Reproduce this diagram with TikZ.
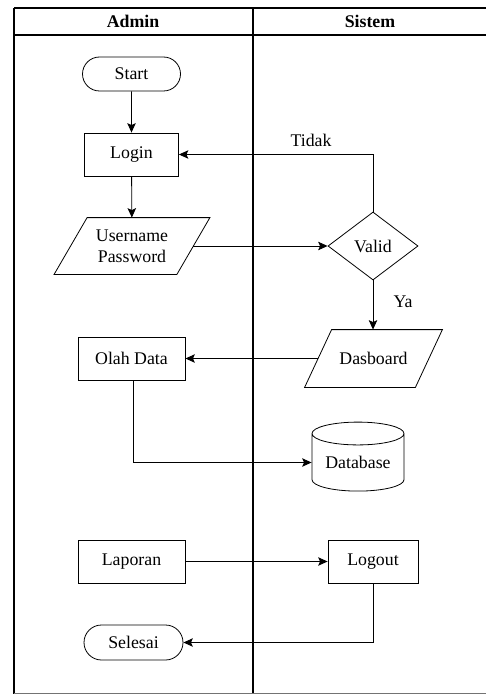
\documentclass[tikz,border=0pt]{standalone}
\usepackage{fontspec}
\setmainfont{Liberation Serif}
\usetikzlibrary{arrows.meta,shapes.geometric,shapes.misc,calc}
\tikzset{
  lane/.style={line width=1.1pt},
  term/.style={draw, rounded rectangle, minimum width=98pt, minimum height=34pt, inner sep=0pt},
  proc/.style={draw, rectangle, minimum width=107pt, minimum height=43pt, inner sep=0pt},
  io/.style={rectangle, minimum height=56pt, inner sep=0pt},
  decision/.style={draw, diamond, minimum width=90pt, minimum height=68pt, inner sep=0pt},
  store/.style={draw, cylinder, shape border rotate=90, shape aspect=0.35, minimum width=92pt, minimum height=69pt, inner sep=0pt},
  flow/.style={-{Stealth[length=9.5pt,width=8.5pt,inset=2pt]}, line width=0.85pt}
}
\begin{document}
\begin{tikzpicture}[x=1pt, y=-1pt, font=\fontsize{17.8}{19}\selectfont, line width=0.8pt]
  \useasboundingbox (0,0) rectangle (486,695);
  \def\xa{131.5}\def\xs{373}
  % swimlanes
  \draw[lane] (14,8) -- (490,8);
  \draw[lane] (14,35) -- (490,35);
  \draw[lane] (14,8) -- (14,693.5);
  \draw[lane] (253,8) -- (253,693.5);
  \draw[lane, black!55] (14,693.5) -- (490,693.5);
  \node[font=\fontsize{17.8}{19}\selectfont\bfseries] (hadmin) at (133,21.5) {Admin};
  \node[font=\fontsize{17.8}{19}\selectfont\bfseries] (hsistem) at (370,21.5) {Sistem};
  % admin lane
  \node[term] (start) at (\xa,74) {Start};
  \node[proc, minimum width=94pt] (login) at (\xa,154.5) {Login};
  \node[io, align=center, minimum width=122pt, font=\fontsize{17.8}{21}\selectfont] (user) at (132,246) {Username\\Password};
  \draw ($(user.south west)+(-16.5,0)$) -- ($(user.north west)+(16.5,0)$)
     -- ($(user.north east)+(16.5,0)$) -- ($(user.south east)+(-16.5,0)$) -- cycle;
  \node[proc] (olah) at (\xa,358.5) {Olah Data};
  \node[proc] (lapor) at (\xa,561.5) {Laporan};
  \node[term, minimum width=99pt, minimum height=35pt] (selesai) at (133.5,642.5) {Selesai};
  % sistem lane
  \node[decision] (valid) at (\xs,246) {Valid};
  \node[io, minimum width=110pt, minimum height=57pt] (dasb) at (373.5,358.5) {Dasboard};
  \draw ($(dasb.south west)+(-13.5,0)$) -- ($(dasb.north west)+(13.5,0)$)
     -- ($(dasb.north east)+(13.5,0)$) -- ($(dasb.south east)+(-13.5,0)$) -- cycle;
  \node[store] (db) at (358,462.5) {Database};
  \node[proc, minimum width=90pt] (logout) at (\xs,561.5) {Logout};
  % labels
  \node (ltidak) at (311,140) {Tidak};
  \node (lya) at (403,302) {Ya};
  % arrows
  \draw[flow] (start) -- (login);
  \draw[flow] (login) -- (user);
  \draw[flow] (user.east) -- (valid.west);
  \draw[flow] (valid.north) |- (login.east);
  \draw[flow] (valid.south) -- (valid.south |- dasb.north);
  \draw[flow] (dasb.west) -- (olah.east);
  \draw[flow] ([xshift=1.5pt]olah.south) |- (db.west);
  \draw[flow] (lapor.east) -- (logout.west);
  \draw[flow] (logout.south) |- (selesai.east);
\end{tikzpicture}
\end{document}
